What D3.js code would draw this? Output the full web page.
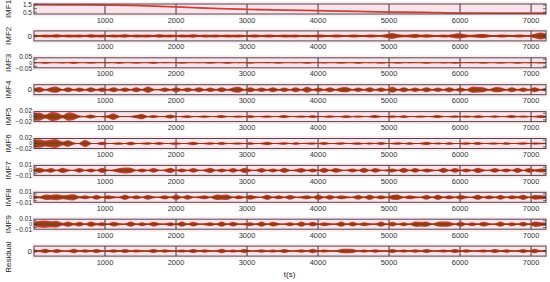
<!DOCTYPE html>
<html>
<head>
<meta charset="utf-8">
<script src="https://cdn.jsdelivr.net/npm/d3@7"></script>
<style>
body { margin: 0; background: #fff; }
svg { display: block; font-family: "Liberation Sans", Arial, sans-serif; }
</style>
</head>
<body>
<svg id="chart" width="550" height="282"></svg>
<script>
// panel names, top to bottom
var panelNames = ["IMF1", "IMF2", "IMF3", "IMF4", "IMF5", "IMF6", "IMF7", "IMF8", "IMF9", "Residual"];
var timeTicks = [1000, 2000, 3000, 4000, 5000, 6000, 7000];

// y domains and tick labels of each panel
var panelDomains = [[0.25, 1.65], [-0.1, 0.1], [-0.07, 0.07], [-0.1, 0.1], [-0.03, 0.03], [-0.03, 0.03], [-0.015, 0.015], [-0.015, 0.015], [-0.015, 0.015], [-0.02, 0.02]];
var panelTicks = [[0.5, 1, 1.5], [0], [-0.05, 0, 0.05], [0], [-0.02, 0, 0.02], [-0.02, 0, 0.02], [-0.01, 0, 0.01], [-0.01, 0, 0.01], [-0.01, 0, 0.01], [0]];
var panelTickLabels = [["0.5", "", "1.5"], ["0"], ["\u22120.05", "0", "0.05"], ["0"], ["\u22120.02", "0", "0.02"], ["\u22120.02", "0", "0.02"], ["\u22120.01", "0", "0.01"], ["\u22120.01", "0", "0.01"], ["\u22120.01", "0", "0.01"], ["0"]];

// IMF1 is a slow trend
var imf1Times = [0, 500, 1000, 1500, 2000, 2500, 3000, 3500, 4000, 4500, 5000, 5500, 6000, 6500, 7210];
var imf1Values = [1.55, 1.53, 1.5, 1.42, 1.25, 1.05, 0.9, 0.8, 0.72, 0.62, 0.52, 0.47, 0.38, 0.36, 0.36];

// oscillating modes: envelope amplitude read every ~80 s
var imf2Amp = [0.03, 0.02, 0.03, 0.025, 0.035, 0.02, 0.03, 0.025, 0.03, 0.02,
	0.035, 0.025, 0.03, 0.02, 0.03, 0.025, 0.035, 0.02, 0.03, 0.025,
	0.03, 0.02, 0.035, 0.025, 0.03, 0.02, 0.03, 0.025, 0.035, 0.02,
	0.03, 0.025, 0.03, 0.02, 0.03, 0.025, 0.03, 0.02, 0.025, 0.03,
	0.02, 0.03, 0.025, 0.02, 0.03, 0.025, 0.03, 0.02, 0.025, 0.02,
	0.03, 0.025, 0.02, 0.03, 0.025, 0.02, 0.03, 0.025, 0.02, 0.03,
	0.025, 0.02, 0.04, 0.06, 0.035, 0.025, 0.03, 0.04, 0.025, 0.035,
	0.025, 0.02, 0.03, 0.025, 0.045, 0.05, 0.03, 0.025, 0.035, 0.04,
	0.025, 0.02, 0.03, 0.025, 0.02, 0.03, 0.025, 0.02, 0.045, 0.07, 0.05];
var imf3Amp = [0.005, 0.004, 0.012, 0.004, 0.004, 0.008, 0.004, 0.013, 0.004, 0.004,
	0.010, 0.004, 0.004, 0.006, 0.004, 0.012, 0.004, 0.004, 0.009, 0.004,
	0.004, 0.013, 0.004, 0.006, 0.004, 0.004, 0.011, 0.004, 0.004, 0.005,
	0.004, 0.010, 0.004, 0.004, 0.012, 0.004, 0.005, 0.004, 0.009, 0.004,
	0.004, 0.006, 0.004, 0.011, 0.004, 0.004, 0.005, 0.004, 0.012, 0.004,
	0.004, 0.008, 0.004, 0.004, 0.010, 0.004, 0.004, 0.012, 0.004, 0.005,
	0.004, 0.009, 0.004, 0.004, 0.011, 0.004, 0.006, 0.004, 0.004, 0.012,
	0.004, 0.004, 0.008, 0.004, 0.010, 0.004, 0.004, 0.006, 0.004, 0.011,
	0.004, 0.004, 0.009, 0.004, 0.004, 0.012, 0.004, 0.006, 0.004, 0.008, 0.005];
var imf4Amp = [0.03, 0.055, 0.015, 0.05, 0.06, 0.015, 0.05, 0.015, 0.045, 0.015,
	0.05, 0.015, 0.045, 0.015, 0.05, 0.015, 0.045, 0.015, 0.05, 0.015,
	0.065, 0.02, 0.015, 0.045, 0.015, 0.05, 0.015, 0.045, 0.015, 0.05,
	0.015, 0.045, 0.015, 0.05, 0.015, 0.045, 0.06, 0.015, 0.05, 0.015,
	0.045, 0.015, 0.05, 0.015, 0.045, 0.015, 0.05, 0.015, 0.06, 0.015,
	0.045, 0.015, 0.05, 0.015, 0.045, 0.05, 0.015, 0.045, 0.015, 0.05,
	0.015, 0.045, 0.015, 0.06, 0.015, 0.05, 0.015, 0.045, 0.015, 0.05,
	0.015, 0.045, 0.015, 0.05, 0.015, 0.045, 0.015, 0.06, 0.055, 0.05,
	0.015, 0.05, 0.045, 0.015, 0.05, 0.015, 0.045, 0.015, 0.05, 0.015, 0.04];
var imf5Amp = [0.02, 0.025, 0.012, 0.026, 0.024, 0.01, 0.025, 0.02, 0.006, 0.004,
	0.012, 0.003, 0.004, 0.008, 0.02, 0.004, 0.003, 0.004, 0.01, 0.016,
	0.004, 0.009, 0.003, 0.004, 0.012, 0.003, 0.004, 0.008, 0.003, 0.004,
	0.007, 0.003, 0.004, 0.009, 0.003, 0.004, 0.006, 0.003, 0.008, 0.003,
	0.004, 0.007, 0.003, 0.004, 0.009, 0.003, 0.004, 0.006, 0.003, 0.008,
	0.003, 0.004, 0.007, 0.003, 0.004, 0.008, 0.003, 0.006, 0.003, 0.004,
	0.009, 0.003, 0.004, 0.007, 0.003, 0.008, 0.003, 0.004, 0.006, 0.003,
	0.004, 0.009, 0.003, 0.004, 0.007, 0.003, 0.006, 0.003, 0.008, 0.004,
	0.003, 0.007, 0.003, 0.004, 0.009, 0.003, 0.006, 0.003, 0.004, 0.008, 0.005];
var imf6Amp = [0.022, 0.026, 0.018, 0.024, 0.026, 0.012, 0.02, 0.006, 0.004, 0.022,
	0.004, 0.003, 0.01, 0.003, 0.004, 0.008, 0.003, 0.011, 0.003, 0.004,
	0.007, 0.003, 0.009, 0.003, 0.004, 0.008, 0.003, 0.004, 0.01, 0.003,
	0.004, 0.007, 0.003, 0.009, 0.003, 0.004, 0.006, 0.003, 0.008, 0.003,
	0.004, 0.01, 0.003, 0.004, 0.007, 0.003, 0.008, 0.003, 0.004, 0.006,
	0.003, 0.009, 0.003, 0.004, 0.007, 0.003, 0.004, 0.008, 0.003, 0.006,
	0.003, 0.009, 0.003, 0.004, 0.007, 0.003, 0.008, 0.003, 0.004, 0.01,
	0.003, 0.006, 0.003, 0.008, 0.003, 0.004, 0.007, 0.003, 0.009, 0.003,
	0.004, 0.006, 0.003, 0.008, 0.003, 0.004, 0.007, 0.003, 0.006, 0.004, 0.005];
var imf7Amp = [0.005, 0.008, 0.003, 0.007, 0.002, 0.008, 0.003, 0.002, 0.007, 0.002,
	0.006, 0.002, 0.008, 0.002, 0.003, 0.007, 0.009, 0.008, 0.002, 0.006,
	0.002, 0.007, 0.002, 0.003, 0.008, 0.002, 0.006, 0.002, 0.007, 0.002,
	0.003, 0.008, 0.002, 0.006, 0.002, 0.007, 0.002, 0.008, 0.003, 0.002,
	0.007, 0.002, 0.006, 0.002, 0.008, 0.002, 0.003, 0.007, 0.002, 0.006,
	0.002, 0.008, 0.002, 0.007, 0.003, 0.002, 0.006, 0.002, 0.008, 0.002,
	0.007, 0.002, 0.003, 0.006, 0.002, 0.008, 0.002, 0.007, 0.002, 0.006,
	0.003, 0.002, 0.008, 0.002, 0.007, 0.002, 0.006, 0.002, 0.008, 0.003,
	0.002, 0.007, 0.002, 0.006, 0.002, 0.008, 0.002, 0.007, 0.003, 0.006, 0.005];
var imf8Amp = [0.006, 0.003, 0.008, 0.007, 0.009, 0.006, 0.008, 0.009, 0.003, 0.006,
	0.002, 0.007, 0.002, 0.006, 0.003, 0.002, 0.008, 0.002, 0.006, 0.002,
	0.007, 0.003, 0.002, 0.006, 0.002, 0.008, 0.002, 0.007, 0.002, 0.003,
	0.006, 0.002, 0.008, 0.007, 0.008, 0.002, 0.006, 0.002, 0.007, 0.003,
	0.002, 0.008, 0.002, 0.006, 0.002, 0.007, 0.002, 0.003, 0.006, 0.002,
	0.008, 0.002, 0.007, 0.002, 0.006, 0.003, 0.002, 0.007, 0.002, 0.008,
	0.002, 0.006, 0.002, 0.007, 0.008, 0.002, 0.006, 0.003, 0.002, 0.007,
	0.002, 0.008, 0.002, 0.006, 0.002, 0.007, 0.003, 0.002, 0.008, 0.002,
	0.006, 0.002, 0.007, 0.002, 0.006, 0.003, 0.008, 0.002, 0.007, 0.006, 0.005];
var imf9Amp = [0.006, 0.01, 0.011, 0.009, 0.01, 0.004, 0.008, 0.003, 0.007, 0.002,
	0.008, 0.003, 0.006, 0.002, 0.007, 0.003, 0.002, 0.008, 0.002, 0.006,
	0.002, 0.007, 0.003, 0.002, 0.006, 0.002, 0.008, 0.002, 0.007, 0.002,
	0.003, 0.006, 0.002, 0.008, 0.002, 0.007, 0.002, 0.003, 0.006, 0.002,
	0.008, 0.002, 0.007, 0.003, 0.002, 0.006, 0.002, 0.008, 0.002, 0.007,
	0.002, 0.006, 0.003, 0.002, 0.008, 0.002, 0.007, 0.002, 0.006, 0.003,
	0.002, 0.008, 0.002, 0.007, 0.002, 0.006, 0.002, 0.008, 0.007, 0.008,
	0.002, 0.007, 0.008, 0.007, 0.002, 0.008, 0.002, 0.006, 0.002, 0.007,
	0.003, 0.002, 0.008, 0.002, 0.006, 0.002, 0.007, 0.002, 0.008, 0.006, 0.005];
var residualAmp = [0.007, 0.004, 0.009, 0.003, 0.008, 0.003, 0.003, 0.009, 0.003, 0.007,
	0.003, 0.008, 0.003, 0.003, 0.007, 0.003, 0.008, 0.003, 0.006, 0.003,
	0.003, 0.008, 0.003, 0.007, 0.003, 0.003, 0.006, 0.003, 0.008, 0.003,
	0.007, 0.003, 0.003, 0.009, 0.003, 0.006, 0.003, 0.008, 0.003, 0.003,
	0.007, 0.003, 0.006, 0.003, 0.008, 0.003, 0.003, 0.007, 0.003, 0.009,
	0.003, 0.006, 0.003, 0.003, 0.008, 0.009, 0.008, 0.003, 0.006, 0.003,
	0.007, 0.003, 0.003, 0.008, 0.003, 0.006, 0.003, 0.007, 0.003, 0.008,
	0.003, 0.003, 0.006, 0.003, 0.008, 0.003, 0.007, 0.003, 0.003, 0.006,
	0.003, 0.008, 0.003, 0.007, 0.003, 0.003, 0.008, 0.003, 0.009, 0.003, 0.005];
var panelAmps = [null, imf2Amp, imf3Amp, imf4Amp, imf5Amp, imf6Amp, imf7Amp, imf8Amp, imf9Amp, residualAmp];

var svg = d3.select("#chart");
var left = 34, right = 546;
var panelTop = 4, panelStep = 26.9, panelH = 10;
var tMax = 7210;

var x = d3.scaleLinear().domain([0, tMax]).range([left, right]);

panelNames.forEach(function (name, i) {
	var top = panelTop + i * panelStep;
	var y = d3.scaleLinear().domain(panelDomains[i]).range([panelH, 0]);
	var g = svg.append("g").attr("transform", "translate(0," + top + ")");

	// pinkish wash around the box
	g.append("rect").attr("x", left - 2).attr("y", -2.5).attr("width", right - left + 3).attr("height", panelH + 5)
		.style("fill", "#fdebf1");
	g.append("rect").attr("x", left).attr("y", 0).attr("width", right - left).attr("height", panelH)
		.style("fill", "#fbe3e9");

	g.selectAll("line.vt").data(timeTicks).enter().append("line")
		.attr("class", "vt")
		.attr("x1", function (d) { return x(d); }).attr("x2", function (d) { return x(d); })
		.attr("y1", 0).attr("y2", panelH)
		.style("stroke", "#222").style("stroke-width", 0.9);

	if (i === 0) {
		var trend = imf1Times.map(function (t, k) { return [t, imf1Values[k]]; });
		var ln = d3.line().x(function (d) { return x(d[0]); }).y(function (d) { return y(d[1]); }).curve(d3.curveMonotoneX);
		g.append("path").attr("d", ln(trend)).style("fill", "none").style("stroke", "#a8705a").style("stroke-width", 1.8);
		g.append("path").attr("d", ln(trend)).style("fill", "none").style("stroke", "#f0202c").style("stroke-width", 0.9);
	} else {
		var amp = panelAmps[i];
		var step = tMax / (amp.length - 1);
		var outer = d3.area()
			.x(function (d, k) { return x(k * step); })
			.y0(function (d) { return y(-d); })
			.y1(function (d) { return y(d); })
			.curve(d3.curveCatmullRom);
		var inner = d3.area()
			.x(function (d, k) { return x(k * step); })
			.y0(function (d) { return y(-d * 0.65); })
			.y1(function (d) { return y(d * 0.65); })
			.curve(d3.curveCatmullRom);
		g.append("path").attr("d", outer(amp)).style("fill", "#e33a3a");
		g.append("path").attr("d", inner(amp)).style("fill", "#8a4614");
		g.append("line").attr("x1", left).attr("x2", right).attr("y1", y(0)).attr("y2", y(0))
			.style("stroke", "#8a3414").style("stroke-width", 0.8);
	}

	g.append("rect").attr("x", left).attr("y", 0).attr("width", right - left).attr("height", panelH)
		.style("fill", "none").style("stroke", "#4a4a4a").style("stroke-width", 1);

	// y ticks on both sides
	var nT = panelTicks[i].length;
	panelTicks[i].forEach(function (v, k) {
		g.append("line").attr("x1", left).attr("x2", left + 3).attr("y1", y(v)).attr("y2", y(v))
			.style("stroke", "#333").style("stroke-width", 0.7);
		g.append("line").attr("x1", right - 3).attr("x2", right).attr("y1", y(v)).attr("y2", y(v))
			.style("stroke", "#333").style("stroke-width", 0.7);
		// crowded labels: outer ones pushed apart, the middle "0" kept small
		var shift = 0, size = "7.5px";
		if (nT === 3 && i > 0) {
			if (k === 0) shift = 2.2;
			if (k === 2) shift = -2.2;
			size = k === 1 ? "5px" : "6.5px";
		} else if (nT === 3) {
			if (k === 0) shift = 0.6;
			if (k === 2) shift = -0.6;
			size = "6.5px";
		}
		g.append("text").attr("x", left - 2).attr("y", y(v) + shift).attr("dy", "0.35em")
			.attr("text-anchor", "end").style("font-size", size).style("fill", "#222")
			.text(panelTickLabels[i][k]);
	});

	g.selectAll("text.xt").data(timeTicks).enter().append("text")
		.attr("class", "xt")
		.attr("x", function (d) { return x(d); })
		.attr("y", panelH + 8.5)
		.attr("text-anchor", "middle").style("font-size", "7.5px").style("fill", "#333")
		.text(function (d) { return d; });

	var labelY = name === "Residual" ? panelH / 2 + 6 : panelH / 2;
	g.append("text")
		.attr("transform", "translate(11," + labelY + ") rotate(-90)")
		.attr("text-anchor", "middle").style("font-size", "8px").style("fill", "#222")
		.text(name);
});

svg.append("text").attr("x", x(3600)).attr("y", 277)
	.attr("text-anchor", "middle").style("font-size", "8px").style("fill", "#222")
	.text("t(s)");
</script>
</body>
</html>
